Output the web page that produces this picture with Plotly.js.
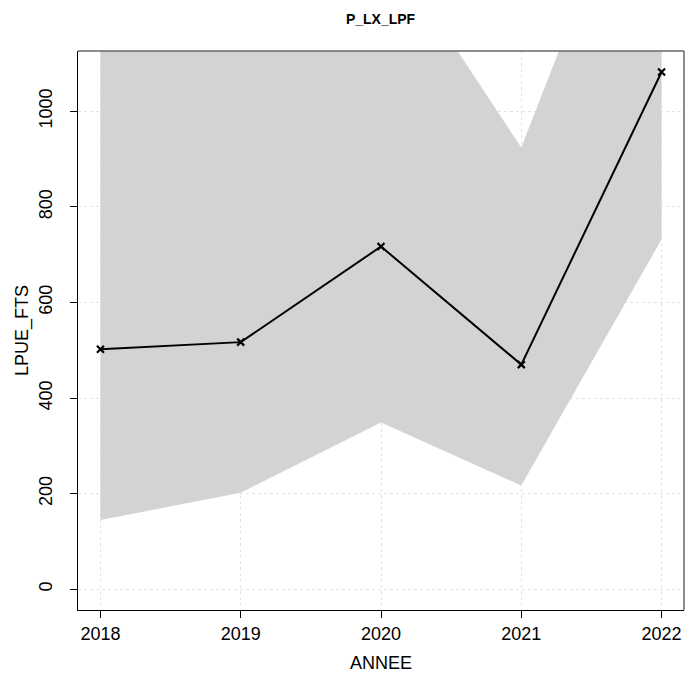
<!DOCTYPE html>
<html>
<head>
<meta charset="utf-8">
<script src="https://cdn.plot.ly/plotly-3.0.1.min.js"></script>
<style>html,body{margin:0;padding:0;background:#fff;}#chart{width:685px;height:673px;}</style>
</head>
<body>
<div id="chart"></div>
<script>
const years = [2018, 2019, 2020, 2021, 2022];
const lpue = [502, 517, 717, 470, 1082];
const lower = [145, 202, 349, 217, 732];
const upper = [1500, 1450, 1369, 924, 1678];
const yTicks = [0, 200, 400, 600, 800, 1000];

const font = 'Liberation Sans, Arial, Helvetica, sans-serif';

const traces = [
  {x: years, y: lower, type: 'scatter', mode: 'lines', line: {width: 0, color: '#d3d3d3'}, hoverinfo: 'skip', showlegend: false},
  {x: years, y: upper, type: 'scatter', mode: 'lines', fill: 'tonexty', fillcolor: '#d3d3d3', line: {width: 0, color: '#d3d3d3'}, hoverinfo: 'skip', showlegend: false},
  {x: years, y: lpue, type: 'scatter', mode: 'lines+markers', line: {color: '#000', width: 2},
   marker: {symbol: 'x-thin', size: 7, line: {color: '#000', width: 2.2}}, cliponaxis: false, showlegend: false}
];

const layout = {
  width: 685, height: 673,
  margin: {l: 78, r: 1, t: 51, b: 63},
  paper_bgcolor: '#fff', plot_bgcolor: '#fff',
  font: {family: font, color: '#000', size: 18},
  title: {text: '<b>P_LX_LPF</b>', font: {family: font, size: 14, color: '#000'}, x: 0.5555, xanchor: 'center', y: 0.972, yanchor: 'middle'},
  xaxis: {
    range: [2017.84, 2022.16], tickvals: years, ticktext: years.map(String),
    showgrid: true, gridcolor: '#e3e3e3', griddash: 'dot', gridwidth: 1,
    zeroline: false, showline: true, linecolor: '#000', linewidth: 1,
    ticks: 'outside', ticklen: 7, tickcolor: '#000', tickfont: {size: 18, family: font},
    title: {text: 'ANNEE', font: {size: 18, family: font}, standoff: 14}
  },
  yaxis: {
    range: [-43.3, 1126], tickvals: yTicks, ticktext: yTicks.map(String), tickangle: -90,
    showgrid: true, gridcolor: '#e3e3e3', griddash: 'dot', gridwidth: 1,
    zeroline: false, showline: true, linecolor: '#000', linewidth: 1,
    ticks: 'outside', ticklen: 7, tickcolor: '#000', tickfont: {size: 18, family: font},
    ticklabelstandoff: 11,
    title: {text: 'LPUE_FTS', font: {size: 18, family: font}, standoff: 2}
  },
  shapes: [
    {type: 'line', xref: 'paper', yref: 'paper', x0: 0, x1: 1, y0: 1, y1: 1, line: {color: '#666', width: 1.5}, layer: 'above'},
    {type: 'line', xref: 'paper', yref: 'paper', x0: 1, x1: 1, y0: 0, y1: 1, line: {color: '#666', width: 1.5}, layer: 'above'}
  ]
};

Plotly.newPlot('chart', traces, layout, {displayModeBar: false, staticPlot: true});
</script>
</body>
</html>
